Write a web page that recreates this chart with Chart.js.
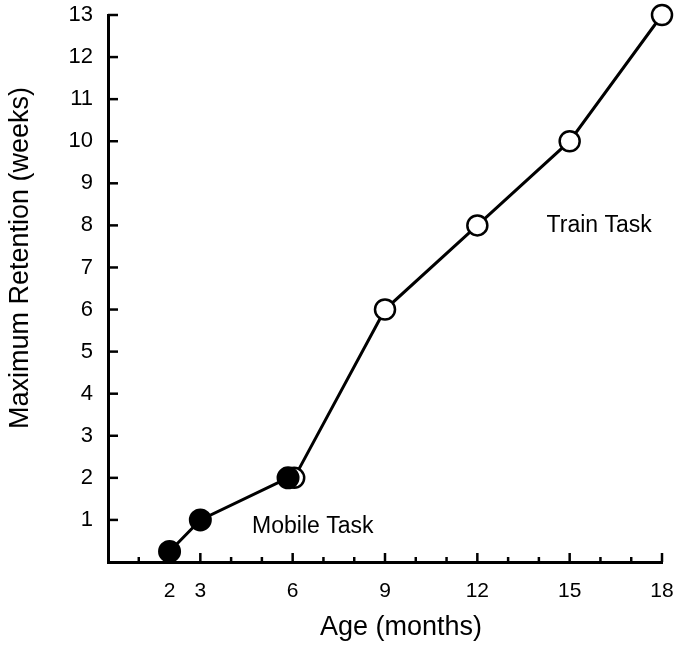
<!DOCTYPE html>
<html>
<head>
<meta charset="utf-8">
<script src="https://cdn.jsdelivr.net/npm/chart.js@4/dist/chart.umd.min.js"></script>
<style>
  html, body { margin: 0; padding: 0; background: #fff; }
  canvas { display: block; }
</style>
</head>
<body>
<canvas id="c" width="686" height="647"></canvas>
<script>
// Data (age in months, maximum retention in weeks)
const mobileAges = [2, 3, 5.85];
const mobileRetention = [0.25, 1, 2];
const trainAges = [6.05, 9, 12, 15, 18];
const trainRetention = [2, 6, 8, 10, 13];
const xTickLabels = [2, 3, 6, 9, 12, 15, 18];
const yTickLabels = [1, 2, 3, 4, 5, 6, 7, 8, 9, 10, 11, 12, 13];

const FONT = "'Liberation Sans', Arial, Helvetica, sans-serif";

const toPts = (xs, ys) => xs.map((x, i) => ({ x: x, y: ys[i] }));

const innerTicks = {
  id: 'innerTicks',
  beforeDatasetsDraw(chart) {
    const ctx = chart.ctx;
    const xs = chart.scales.x, ys = chart.scales.y;
    const ca = chart.chartArea;
    ctx.save();
    ctx.strokeStyle = '#000';
    ctx.lineWidth = 2.5;
    for (let v = 1; v <= 18; v++) {
      const px = xs.getPixelForValue(v);
      const len = xTickLabels.includes(v) ? 9 : 5;
      ctx.beginPath();
      ctx.moveTo(px, ca.bottom);
      ctx.lineTo(px, ca.bottom - len);
      ctx.stroke();
    }
    yTickLabels.forEach(v => {
      const py = ys.getPixelForValue(v);
      ctx.beginPath();
      ctx.moveTo(ca.left, py);
      ctx.lineTo(ca.left + 10, py);
      ctx.stroke();
    });
    ctx.restore();
  }
};

const textLayer = {
  id: 'textLayer',
  afterDatasetsDraw(chart) {
    const ctx = chart.ctx;
    const xs = chart.scales.x, ys = chart.scales.y;
    ctx.save();
    ctx.fillStyle = '#000';
    // series labels
    ctx.font = '23px ' + FONT;
    ctx.textAlign = 'left';
    ctx.textBaseline = 'alphabetic';
    ctx.fillText('Mobile Task', xs.getPixelForValue(4.68), ys.getPixelForValue(0.69));
    ctx.fillText('Train Task', xs.getPixelForValue(14.25), ys.getPixelForValue(7.84));
    // axis titles
    ctx.font = '27px ' + FONT;
    ctx.textAlign = 'center';
    ctx.textBaseline = 'middle';
    ctx.fillText('Age (months)', 401, 628);
    ctx.translate(21, 258);
    ctx.rotate(-Math.PI / 2);
    ctx.fillText('Maximum Retention (weeks)', 0, 0);
    ctx.restore();
  }
};

new Chart(document.getElementById('c'), {
  type: 'scatter',
  data: {
    datasets: [
      {
        label: 'Mobile Task',
        data: toPts(mobileAges, mobileRetention),
        showLine: true,
        borderColor: '#000',
        borderWidth: 3,
        pointRadius: 10.5,
        pointBorderWidth: 2,
        pointBackgroundColor: '#000',
        pointBorderColor: '#000',
        clip: false
      },
      {
        label: 'Train Task',
        data: toPts(trainAges, trainRetention),
        showLine: true,
        borderColor: '#000',
        borderWidth: 3,
        pointRadius: 10,
        pointBorderWidth: 2.5,
        pointBackgroundColor: '#fff',
        pointBorderColor: '#000',
        clip: false
      }
    ]
  },
  options: {
    responsive: false,
    animation: false,
    devicePixelRatio: 1,
    layout: { padding: { top: 15, right: 24, left: 0, bottom: 0 } },
    plugins: {
      legend: { display: false },
      tooltip: { enabled: false },
      title: { display: false }
    },
    scales: {
      x: {
        type: 'linear',
        min: 0,
        max: 18,
        afterFit(s) { s.height = 85; s.paddingLeft = 0; s.paddingRight = 0; },
        grid: { display: false, drawTicks: false },
        border: { display: true, color: '#000', width: 3 },
        ticks: {
          stepSize: 1,
          autoSkip: false,
          maxRotation: 0,
          padding: 17,
          color: '#000',
          font: { family: FONT, size: 21 },
          callback: v => xTickLabels.includes(v) ? String(v) : ''
        }
      },
      y: {
        type: 'linear',
        min: 0,
        max: 13,
        afterFit(s) { s.width = 108; s.paddingTop = 0; s.paddingBottom = 0; },
        grid: { display: false, drawTicks: false },
        border: { display: true, color: '#000', width: 3 },
        ticks: {
          stepSize: 1,
          autoSkip: false,
          padding: 15,
          color: '#000',
          font: { family: FONT, size: 22 },
          callback: v => yTickLabels.includes(v) ? String(v) : ''
        }
      }
    }
  },
  plugins: [innerTicks, textLayer]
});
</script>
</body>
</html>
